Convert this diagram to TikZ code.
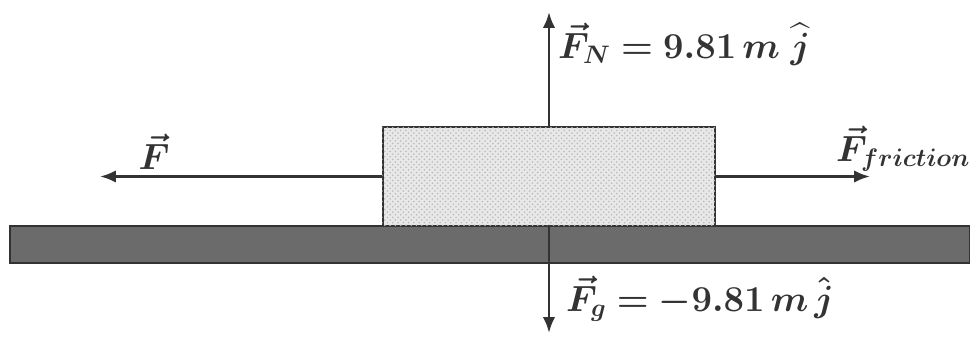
\documentclass[tikz,border=0pt]{standalone}
\usepackage{amsmath,amssymb,amsfonts}
\usepackage{bm}
\usepackage{xcolor}
\usepackage{tikz}
\usetikzlibrary{arrows.meta,patterns,positioning,calc}

\definecolor{inkgray}{HTML}{333333}

\tikzset{
	force/.style={line width=1.5pt, draw=inkgray, -{Latex[length=9pt,width=7pt]}},
	forcelabel/.style={text=inkgray, font=\fontsize{20}{24}\selectfont, inner sep=1pt}
}

\begin{document}
\begin{tikzpicture}
		\useasboundingbox (0,0) rectangle (19.4,6.72);

		\node[draw=inkgray, thick, fill=black!58, minimum width=19.2cm, minimum height=0.74cm, inner sep=0] (floor) at (9.8,1.83) {};

		\node[draw=inkgray, thick, fill=gray!18, minimum width=6.64cm, minimum height=1.98cm, inner sep=0] (block) at (10.98,3.19) {};
		\fill[pattern=crosshatch dots, pattern color=gray!55] (block.south west) rectangle (block.north east);

		\coordinate (topEnd) at (10.98,6.48);
		\coordinate (botEnd) at (10.98,0.06);
		\coordinate (leftEnd) at (2.0,3.19);
		\coordinate (rightEnd) at (17.4,3.19);

		\draw[force] (block.north) -- (topEnd);
		\draw[force] (block.center |- floor.north) -- (botEnd);
		\draw[force] (block.west) -- (leftEnd);
		\draw[force] (block.east) -- (rightEnd);

		\node[forcelabel, anchor=west] (lblN) at (11.12,5.84) {$\bm{\vec{F}_N = 9.81\, m\ \widehat{j}}$};
		\node[forcelabel] (lblF) at (3.08,3.68) {$\bm{\vec{F}}$};
		\node[forcelabel, anchor=west] (lblFr) at (16.68,3.74) {$\bm{\vec{F}_{friction}}$};
		\node[forcelabel, anchor=west] (lblG) at (11.28,0.74) {$\bm{\vec{F}_g = -9.81\, m\, \hat{j}}$};
	\end{tikzpicture}
\end{document}
